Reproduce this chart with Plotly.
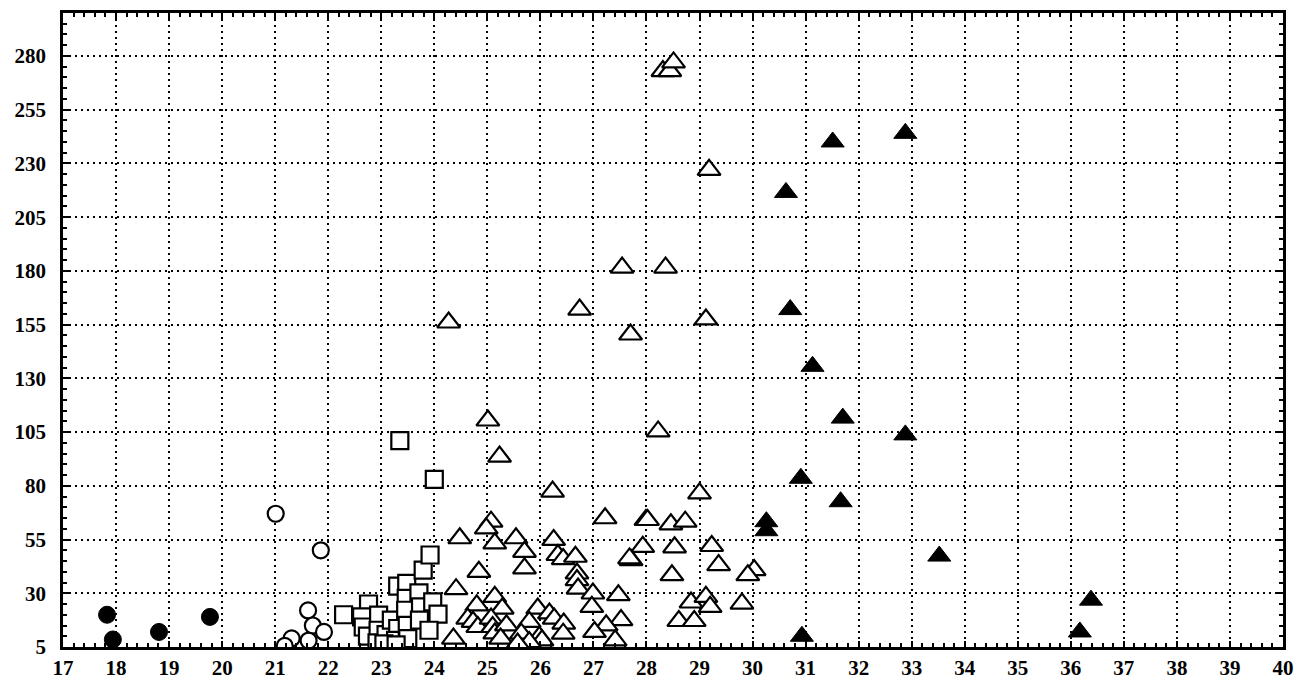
import plotly.graph_objects as go

# Filled circles
fc_x = [17.83, 17.94, 18.81, 19.77]
fc_y = [20, 8.5, 12, 19]

# Open circles
oc_x = [21.01, 21.86, 21.62, 21.71, 21.92, 21.63, 21.31, 21.18]
oc_y = [67, 50, 22, 15, 12, 8, 9, 5.5]

# Open squares
sq_x = [23.35, 24.0, 22.29, 22.76, 22.63, 22.66, 22.74, 22.95, 22.94, 22.92, 23.09, 23.19,
        23.31, 23.27, 23.31, 23.48, 23.47, 23.46, 23.49, 23.50, 23.71, 23.74, 23.72, 23.79,
        23.92, 23.97, 24.07, 23.90, 23.05, 23.28]
sq_y = [101, 83, 20, 25, 19, 14.3, 10.1, 19.8, 12.8, 6.9, 10.8, 17.5,
        13.6, 8.1, 33.3, 34.6, 27.6, 22.1, 15.1, 8.9, 30.2, 23.7, 17.5, 40.8,
        47.8, 26, 20.3, 12.8, 6.5, 6]

# Open triangles
ot_x = [28.31, 28.44, 28.51, 29.18, 27.54, 28.36, 26.74, 24.27, 29.12, 27.70,
        25.01, 28.22, 25.23, 26.23, 29.00, 27.22, 25.07, 24.98, 24.48, 25.14,
        25.54, 25.70, 25.70, 26.25, 26.33, 26.43, 26.66, 26.69, 26.69, 26.71,
        24.84, 24.41, 27.71, 26.99, 26.97, 27.47, 27.52, 27.24, 27.02, 27.41,
        25.14, 25.28, 24.80, 24.63, 24.73, 24.82, 25.07, 25.10, 25.14, 25.36,
        25.25, 24.36, 25.95, 25.79, 25.64, 25.98, 26.03, 26.17, 26.26, 26.44,
        26.43, 25.79, 25.57, 27.93, 27.68, 27.99, 28.02, 28.46, 28.73, 28.53,
        29.23, 29.36, 28.48, 30.03, 29.91, 28.84, 29.12, 29.20, 29.80, 28.61,
        28.90]
ot_y = [273, 273, 277, 227, 181.5, 181.5, 162, 156, 157.4, 150.4,
        110.4, 105.3, 93.6, 77.3, 76.5, 64.9, 63.3, 60.2, 55.6, 53.2,
        55.6, 49.3, 41.6, 54.8, 47.8, 45.9, 47, 39.2, 36.1, 32.2,
        40, 31.9, 45.4, 29.9, 23.7, 29.1, 17.5, 15.1, 12, 8.1,
        28.3, 22.9, 24.4, 18.2, 16.7, 14.3, 18.2, 14.3, 11.3, 15.1,
        8.9, 8.9, 22.9, 16.7, 11.2, 9.7, 8.1, 20.6, 18.2, 15.9,
        11.2, 7.3, 6.6, 51.6, 46.2, 64.1, 64.1, 62.1, 63.3, 51.4,
        52, 43.1, 38.4, 40.8, 38.4, 25.7, 28.3, 23.7, 25.2, 17.1,
        17.1]

# Filled triangles
ft_x = [31.51, 32.88, 30.63, 30.71, 31.13, 31.70, 32.88, 30.91, 31.66, 30.26,
        30.26, 33.52, 36.38, 36.17, 30.93]
ft_y = [240, 244, 216.5, 162, 135.6, 111.5, 103.7, 83.5, 72.6, 63.3,
        59.1, 47.3, 26.8, 12, 10]

x_ticks = list(range(17, 41))
y_ticks = list(range(5, 300, 25))

fig = go.Figure()
line = dict(color="black", width=2.2)
fig.add_trace(go.Scatter(x=sq_x, y=sq_y, mode="markers",
                         marker=dict(symbol="square", size=17, color="white", line=line)))
fig.add_trace(go.Scatter(x=oc_x, y=oc_y, mode="markers",
                         marker=dict(symbol="circle", size=16, color="white", line=line)))
fig.add_trace(go.Scatter(x=ot_x, y=ot_y, mode="markers",
                         marker=dict(symbol="triangle-up", size=20, color="white", line=line)))
fig.add_trace(go.Scatter(x=fc_x, y=fc_y, mode="markers",
                         marker=dict(symbol="circle", size=17, color="black",
                                     line=dict(color="black", width=1))))
fig.add_trace(go.Scatter(x=ft_x, y=ft_y, mode="markers",
                         marker=dict(symbol="triangle-up", size=20, color="black",
                                     line=dict(color="black", width=1))))

font = dict(family="Liberation Serif", size=21, color="black")
axis_common = dict(
    showgrid=True, gridcolor="black", gridwidth=2, griddash="2px,4px",
    showline=True, linecolor="black", linewidth=2.5, mirror="allticks",
    ticks="inside", ticklen=6, tickwidth=2, tickcolor="black",
    zeroline=False, tickfont=font,
)
fig.update_xaxes(range=[17, 40], tickvals=x_ticks, ticktext=[f"<b>{v}</b>" for v in x_ticks],
                 minor=dict(dtick=0.2, tick0=17, ticks="inside", ticklen=4, tickwidth=1.5,
                            tickcolor="black", showgrid=False),
                 **axis_common)
fig.update_yaxes(range=[5, 300], tickvals=y_ticks, ticktext=[f"<b>{v}</b>" for v in y_ticks],
                 ticklabelstandoff=10,
                 minor=dict(dtick=5, tick0=5, ticks="inside", ticklen=4, tickwidth=1.5,
                            tickcolor="black", showgrid=False),
                 **axis_common)
fig.update_layout(
    width=1298, height=680, showlegend=False,
    plot_bgcolor="white", paper_bgcolor="white",
    margin=dict(l=63, r=15, t=13, b=33, autoexpand=False),
)
fig.write_html("out.html", config={"displayModeBar": False},
               post_script="document.body.style.margin='0px';document.body.style.overflow='hidden';")
